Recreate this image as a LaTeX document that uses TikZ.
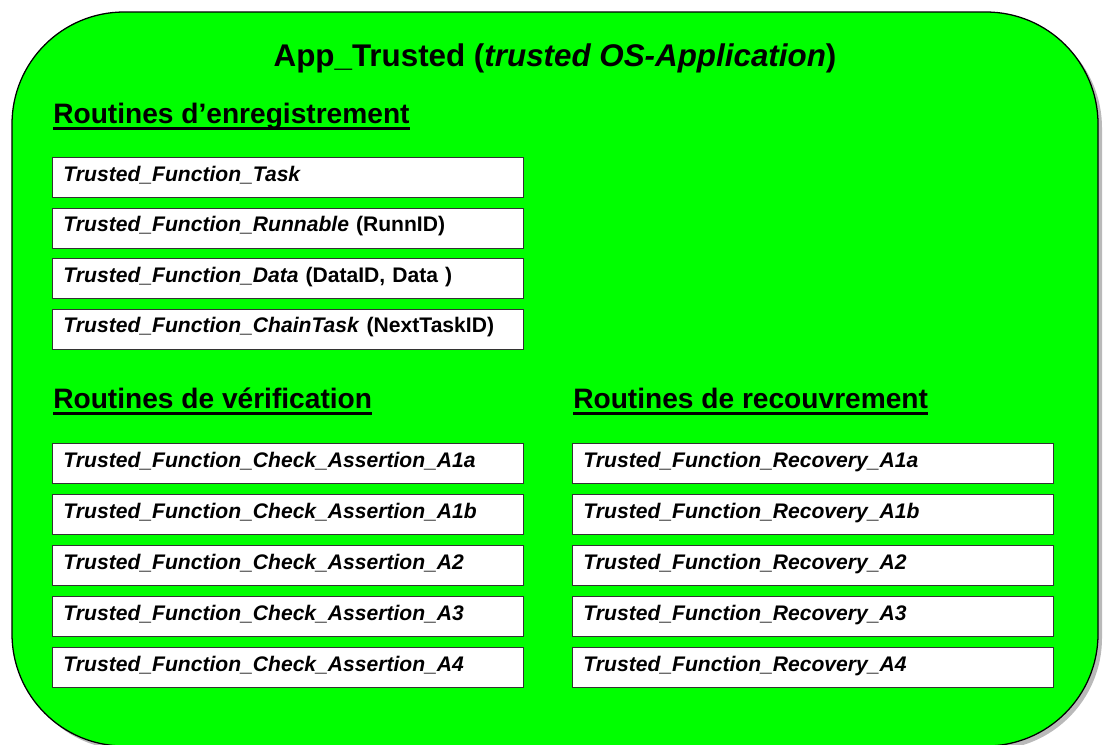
\documentclass[tikz,border=0pt]{standalone}
\usepackage{fontspec}
\setmainfont{Liberation Sans}
\usetikzlibrary{calc}

\begin{document}
\begin{tikzpicture}[x=0.025cm, y=-0.025cm,
          appbox/.style={draw=black, line width=0.9pt, fill=green, rounded corners=2.8cm},
          shadowbox/.style={fill=gray!55, rounded corners=2.8cm},
          fnbox/.style={draw=black!80, line width=0.9pt, fill=white, anchor=north west,
            minimum height=1cm, inner xsep=0.27cm, inner ysep=0pt, text width=11.235cm, align=left,
            text height=0.75em, text depth=0.21em, font=\fontsize{15}{18}\selectfont\bfseries},
          widebox/.style={fnbox, text width=11.485cm},
          head/.style={anchor=base west, inner sep=0pt, font=\fontsize{20}{24}\selectfont\bfseries},
          uline/.style={line width=1.8pt}
        ]
          \clip (0,0) rectangle (1103,744);

          % Applikation
          \fill[shadowbox] (16,16) rectangle (1102,750);
          \draw[appbox] (12,12) rectangle (1098,746);
          \node[anchor=base, inner sep=0pt, font=\fontsize{22.3}{26}\selectfont\bfseries] (title) at (555,66)
            {App\_Trusted (\textit{trusted OS-Application})};

          % Enregistrement
          \node[head] (hreg) at (53,123) {Routines d’enregistrement};
          \draw[uline] ([yshift=-4pt]hreg.base west) -- ([yshift=-4pt]hreg.base east);
          \node[fnbox] (reg1) at (52,157) {\textit{Trusted\_Function\_Task}};
          \node[fnbox] (reg2) at (52,207.5) {\textit{Trusted\_Function\_Runnable} (RunnID)};
          \node[fnbox] (reg3) at (52,258) {\textit{Trusted\_Function\_Data} (DataID, Data )};
          \node[fnbox] (reg4) at (52,308.5) {\textit{Trusted\_Function\_ChainTask} (NextTaskID)};

          % Verification
          \node[head] (hchk) at (53,408) {Routines de vérification};
          \draw[uline] ([yshift=-4pt]hchk.base west) -- ([yshift=-4pt]hchk.base east);
          \node[fnbox] (chk1) at (52,443) {\textit{Trusted\_Function\_Check\_Assertion\_A1a}};
          \node[fnbox] (chk2) at (52,494) {\textit{Trusted\_Function\_Check\_Assertion\_A1b}};
          \node[fnbox] (chk3) at (52,545) {\textit{Trusted\_Function\_Check\_Assertion\_A2}};
          \node[fnbox] (chk4) at (52,596) {\textit{Trusted\_Function\_Check\_Assertion\_A3}};
          \node[fnbox] (chk5) at (52,647) {\textit{Trusted\_Function\_Check\_Assertion\_A4}};

          % Recouvrement
          \node[head] (hrcv) at (573,408) {Routines de recouvrement};
          \draw[uline] ([yshift=-4pt]hrcv.base west) -- ([yshift=-4pt]hrcv.base east);
          \node[widebox] (rcv1) at (572,443) {\textit{Trusted\_Function\_Recovery\_A1a}};
          \node[widebox] (rcv2) at (572,494) {\textit{Trusted\_Function\_Recovery\_A1b}};
          \node[widebox] (rcv3) at (572,545) {\textit{Trusted\_Function\_Recovery\_A2}};
          \node[widebox] (rcv4) at (572,596) {\textit{Trusted\_Function\_Recovery\_A3}};
          \node[widebox] (rcv5) at (572,647) {\textit{Trusted\_Function\_Recovery\_A4}};
        \end{tikzpicture}
\end{document}
